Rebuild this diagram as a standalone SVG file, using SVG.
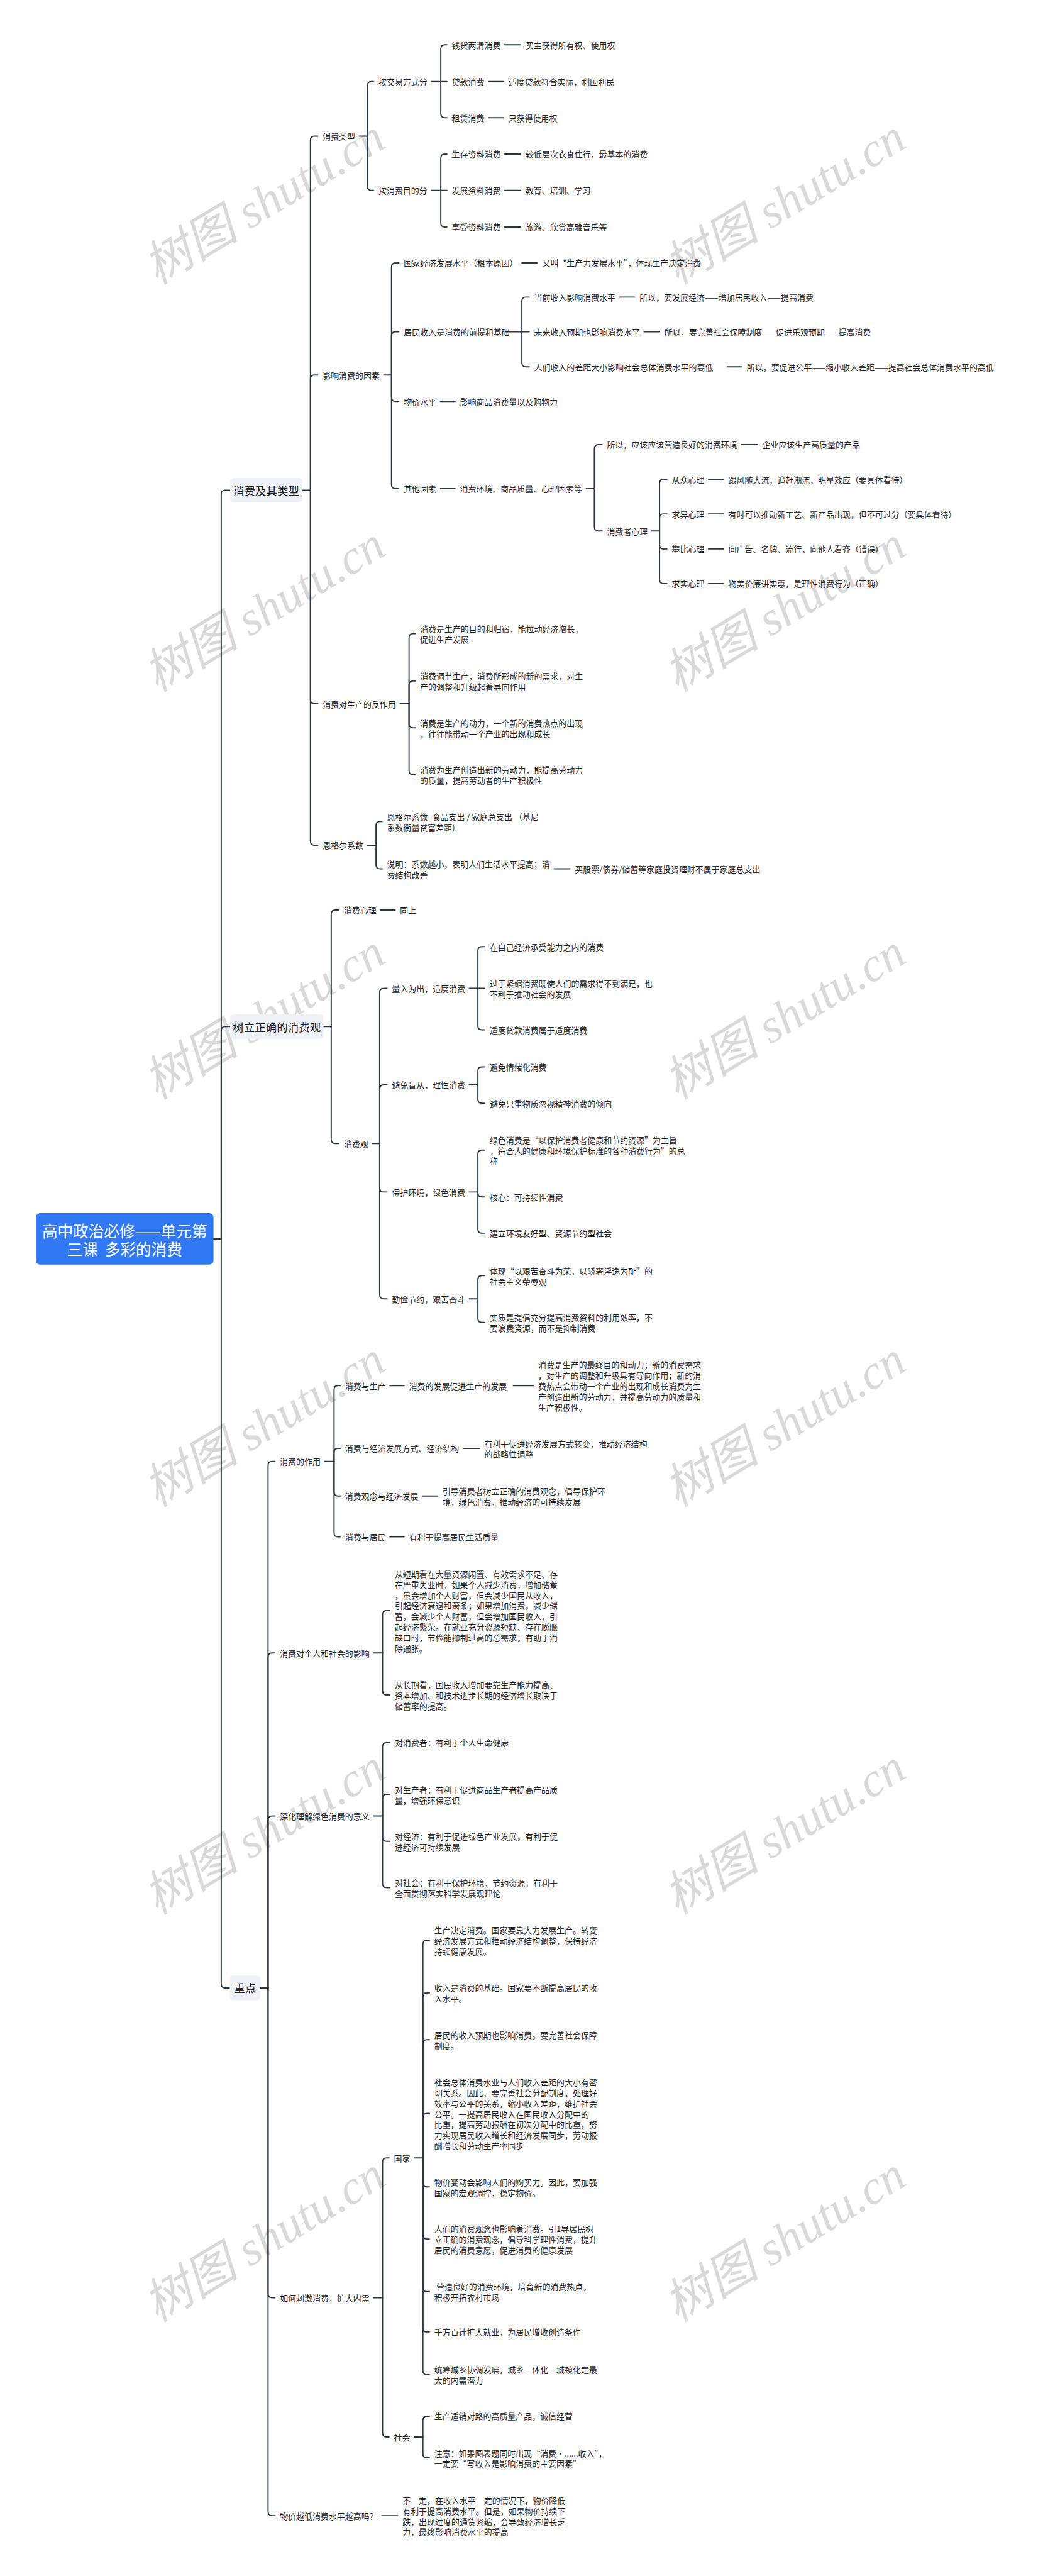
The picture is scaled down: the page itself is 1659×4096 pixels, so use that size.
<svg xmlns="http://www.w3.org/2000/svg" width="1659" height="4096" viewBox="0 0 1659 4096">
<style>
.t{font-family:"Noto Sans CJK SC","Noto Sans",sans-serif;font-size:20px;fill:#1f2329;dominant-baseline:central}
.l1{font-size:27px;text-anchor:middle}
.rt{font-family:"Noto Sans CJK SC","Noto Sans",sans-serif;font-size:38px;fill:#ffffff;text-anchor:middle;dominant-baseline:central}
.c path{fill:none;stroke:#2c3542;stroke-width:3;stroke-linecap:round}
.box{fill:#eef1f6}
.wm{font-family:"Liberation Serif","Noto Sans CJK SC",serif;font-style:italic;font-size:118px;fill:#d9d9d9}
</style>
<rect width="1659" height="4096" fill="#ffffff"/>
<g transform="scale(0.648)">
<g id="watermarks">
<text class="wm" x="385" y="700" transform="rotate(-31 385 700)">树图 shutu.cn</text>
<text class="wm" x="1663" y="700" transform="rotate(-31 1663 700)">树图 shutu.cn</text>
<text class="wm" x="385" y="1700" transform="rotate(-31 385 1700)">树图 shutu.cn</text>
<text class="wm" x="1663" y="1700" transform="rotate(-31 1663 1700)">树图 shutu.cn</text>
<text class="wm" x="385" y="2700" transform="rotate(-31 385 2700)">树图 shutu.cn</text>
<text class="wm" x="1663" y="2700" transform="rotate(-31 1663 2700)">树图 shutu.cn</text>
<text class="wm" x="385" y="3700" transform="rotate(-31 385 3700)">树图 shutu.cn</text>
<text class="wm" x="1663" y="3700" transform="rotate(-31 1663 3700)">树图 shutu.cn</text>
<text class="wm" x="385" y="4700" transform="rotate(-31 385 4700)">树图 shutu.cn</text>
<text class="wm" x="1663" y="4700" transform="rotate(-31 1663 4700)">树图 shutu.cn</text>
<text class="wm" x="385" y="5700" transform="rotate(-31 385 5700)">树图 shutu.cn</text>
<text class="wm" x="1663" y="5700" transform="rotate(-31 1663 5700)">树图 shutu.cn</text>
</g>
<g id="connectors" class="c">
<path d="M524,3040H543"/>
<path d="M543,3040V1213Q543,1203 553,1203H565"/>
<path d="M543,3040V2529Q543,2519 553,2519H565"/>
<path d="M543,3040V4868Q543,4878 553,4878H564"/>
<path d="M742,1203H762"/>
<path d="M762,1203V344Q762,334 772,334H780"/>
<path d="M762,1203V930Q762,920 772,920H780"/>
<path d="M762,1203V1717Q762,1727 772,1727H780"/>
<path d="M762,1203V2064Q762,2074 772,2074H780"/>
<path d="M882,334H902"/>
<path d="M902,334V210Q902,200 912,200H917"/>
<path d="M902,334V457Q902,467 912,467H917"/>
<path d="M1059,200H1082"/>
<path d="M1082,200V120Q1082,110 1092,110H1097"/>
<path d="M1082,200H1097"/>
<path d="M1082,200V279Q1082,289 1092,289H1097"/>
<path d="M1239,110H1278"/>
<path d="M1199,200H1236"/>
<path d="M1199,289H1236"/>
<path d="M1059,467H1082"/>
<path d="M1082,467V388Q1082,378 1092,378H1097"/>
<path d="M1082,467H1097"/>
<path d="M1082,467V547Q1082,557 1092,557H1097"/>
<path d="M1239,378H1278"/>
<path d="M1239,467H1278"/>
<path d="M1239,557H1278"/>
<path d="M942,920H961"/>
<path d="M961,920V655Q961,645 971,645H979"/>
<path d="M961,920V824Q961,814 971,814H979"/>
<path d="M961,920V975Q961,985 971,985H979"/>
<path d="M961,920V1189Q961,1199 971,1199H979"/>
<path d="M1281,645H1319"/>
<path d="M1081,985H1117"/>
<path d="M1081,1199H1117"/>
<path d="M1241,814H1281"/>
<path d="M1281,814V739Q1281,729 1291,729H1299"/>
<path d="M1281,814H1299"/>
<path d="M1281,814V890Q1281,900 1291,900H1299"/>
<path d="M1521,729H1558"/>
<path d="M1581,814H1619"/>
<path d="M1785,900H1821"/>
<path d="M1439,1199H1459"/>
<path d="M1459,1199V1101Q1459,1091 1469,1091H1478"/>
<path d="M1459,1199V1293Q1459,1303 1469,1303H1478"/>
<path d="M1820,1091H1859"/>
<path d="M1600,1303H1619"/>
<path d="M1619,1303V1186Q1619,1176 1629,1176H1637"/>
<path d="M1619,1303V1271Q1619,1261 1629,1261H1637"/>
<path d="M1619,1303V1337Q1619,1347 1629,1347H1637"/>
<path d="M1619,1303V1422Q1619,1432 1629,1432H1637"/>
<path d="M1739,1176H1776"/>
<path d="M1739,1261H1776"/>
<path d="M1739,1347H1776"/>
<path d="M1739,1432H1776"/>
<path d="M982,1727H1004"/>
<path d="M1004,1727V1565Q1004,1555 1014,1555H1019"/>
<path d="M1004,1727V1681Q1004,1671 1014,1671H1019"/>
<path d="M1004,1727V1776Q1004,1786 1014,1786H1019"/>
<path d="M1004,1727V1891Q1004,1901 1014,1901H1019"/>
<path d="M902,2074H923"/>
<path d="M923,2074V2026Q923,2016 933,2016H938"/>
<path d="M923,2074V2122Q923,2132 933,2132H938"/>
<path d="M1360,2132H1399"/>
<path d="M794,2519H813"/>
<path d="M813,2519V2243Q813,2233 823,2233H832"/>
<path d="M813,2519V2796Q813,2806 823,2806H832"/>
<path d="M934,2233H970"/>
<path d="M914,2806H932"/>
<path d="M932,2806V2435Q932,2425 942,2425H950"/>
<path d="M932,2806V2672Q932,2662 942,2662H950"/>
<path d="M932,2806V2915Q932,2925 942,2925H950"/>
<path d="M932,2806V3177Q932,3187 942,3187H950"/>
<path d="M1152,2425H1173"/>
<path d="M1173,2425V2333Q1173,2323 1183,2323H1190"/>
<path d="M1173,2425H1190"/>
<path d="M1173,2425V2517Q1173,2527 1183,2527H1190"/>
<path d="M1152,2662H1173"/>
<path d="M1173,2662V2628Q1173,2618 1183,2618H1190"/>
<path d="M1173,2662V2697Q1173,2707 1183,2707H1190"/>
<path d="M1152,2925H1173"/>
<path d="M1173,2925V2832Q1173,2822 1183,2822H1190"/>
<path d="M1173,2925V2927Q1173,2937 1183,2937H1190"/>
<path d="M1173,2925V3016Q1173,3026 1183,3026H1190"/>
<path d="M1152,3187H1173"/>
<path d="M1173,3187V3140Q1173,3130 1183,3130H1190"/>
<path d="M1173,3187V3235Q1173,3245 1183,3245H1190"/>
<path d="M639,4878H658"/>
<path d="M658,4878V3596Q658,3586 668,3586H675"/>
<path d="M658,4878V4066Q658,4056 668,4056H675"/>
<path d="M658,4878V4466Q658,4456 668,4456H675"/>
<path d="M658,4878V5628Q658,5638 668,5638H675"/>
<path d="M658,4878V6163Q658,6173 668,6173H675"/>
<path d="M797,3586H820"/>
<path d="M820,3586V3410Q820,3400 830,3400H835"/>
<path d="M820,3586V3564Q820,3554 830,3554H835"/>
<path d="M820,3586V3661Q820,3671 830,3671H835"/>
<path d="M820,3586V3761Q820,3771 830,3771H835"/>
<path d="M957,3400H992"/>
<path d="M1260,3400H1309"/>
<path d="M1137,3554H1177"/>
<path d="M1037,3671H1074"/>
<path d="M957,3771H992"/>
<path d="M917,4056H939"/>
<path d="M939,4056V3962Q939,3952 949,3952H957"/>
<path d="M939,4056V4149Q939,4159 949,4159H957"/>
<path d="M917,4456H939"/>
<path d="M939,4456V4286Q939,4276 949,4276H957"/>
<path d="M939,4456V4413Q939,4403 949,4403H957"/>
<path d="M939,4456V4508Q939,4518 949,4518H957"/>
<path d="M939,4456V4622Q939,4632 949,4632H957"/>
<path d="M917,5638H939"/>
<path d="M939,5638V5305Q939,5295 949,5295H955"/>
<path d="M939,5638V5970Q939,5980 949,5980H955"/>
<path d="M1017,5295H1038"/>
<path d="M1038,5295V4771Q1038,4761 1048,4761H1054"/>
<path d="M1038,5295V4900Q1038,4890 1048,4890H1054"/>
<path d="M1038,5295V5015Q1038,5005 1048,5005H1054"/>
<path d="M1038,5295V5196Q1038,5186 1048,5186H1054"/>
<path d="M1038,5295V5356Q1038,5366 1048,5366H1054"/>
<path d="M1038,5295V5484Q1038,5494 1048,5494H1054"/>
<path d="M1038,5295V5613Q1038,5623 1048,5623H1054"/>
<path d="M1038,5295V5712Q1038,5722 1048,5722H1054"/>
<path d="M1038,5295V5817Q1038,5827 1048,5827H1054"/>
<path d="M1017,5980H1038"/>
<path d="M1038,5980V5939Q1038,5929 1048,5929H1054"/>
<path d="M1038,5980V6021Q1038,6031 1048,6031H1054"/>
<path d="M937,6173H976"/>
</g>
<g id="root"><rect x="88" y="2977" width="436" height="126" rx="10" fill="#3178f4"/><text class="rt"><tspan x="306" y="3018">高中政治必修——单元第</tspan><tspan x="306" y="3063">三课&#160;&#160;多彩的消费</tspan></text></g>
<g id="n-xfjqlx"><rect class="box" x="565" y="1173" width="177" height="60" rx="8"/><text class="t l1" x="653.5" y="1203">消费及其类型</text></g>
<g id="n-slzq"><rect class="box" x="565" y="2489" width="229" height="60" rx="8"/><text class="t l1" x="679.5" y="2519">树立正确的消费观</text></g>
<g id="n-zd"><rect class="box" x="564" y="4848" width="75" height="60" rx="8"/><text class="t l1" x="601.5" y="4878">重点</text></g>
<g id="n-xflx"><text class="t" x="792" y="334">消费类型</text></g>
<g id="n-jyfs"><text class="t" x="929" y="200">按交易方式分</text></g>
<g id="n-qh"><text class="t" x="1109" y="110">钱货两清消费</text></g>
<g id="n-qh1"><text class="t" x="1290" y="110">买主获得所有权、使用权</text></g>
<g id="n-dk"><text class="t" x="1109" y="200">贷款消费</text></g>
<g id="n-dk1"><text class="t" x="1248" y="200">适度贷款符合实际，利国利民</text></g>
<g id="n-zl"><text class="t" x="1109" y="289">租赁消费</text></g>
<g id="n-zl1"><text class="t" x="1248" y="289">只获得使用权</text></g>
<g id="n-mdf"><text class="t" x="929" y="467">按消费目的分</text></g>
<g id="n-sc"><text class="t" x="1109" y="378">生存资料消费</text></g>
<g id="n-sc1"><text class="t" x="1290" y="378">较低层次衣食住行，最基本的消费</text></g>
<g id="n-fz"><text class="t" x="1109" y="467">发展资料消费</text></g>
<g id="n-fz1"><text class="t" x="1290" y="467">教育、培训、学习</text></g>
<g id="n-xs"><text class="t" x="1109" y="557">享受资料消费</text></g>
<g id="n-xs1"><text class="t" x="1290" y="557">旅游、欣赏高雅音乐等</text></g>
<g id="n-yxys"><text class="t" x="792" y="920">影响消费的因素</text></g>
<g id="n-gj"><text class="t" x="991" y="645">国家经济发展水平（根本原因）</text></g>
<g id="n-gj1"><text class="t" x="1331" y="645">又叫“生产力发展水平”，体现生产决定消费</text></g>
<g id="n-jmsr"><text class="t" x="991" y="814">居民收入是消费的前提和基础</text></g>
<g id="n-dq"><text class="t" x="1311" y="729">当前收入影响消费水平</text></g>
<g id="n-dq1"><text class="t" x="1570" y="729">所以，要发展经济——增加居民收入——提高消费</text></g>
<g id="n-wl"><text class="t" x="1311" y="814">未来收入预期也影响消费水平</text></g>
<g id="n-wl1"><text class="t" x="1631" y="814">所以，要完善社会保障制度——促进乐观预期——提高消费</text></g>
<g id="n-cj"><text class="t" x="1311" y="900">人们收入的差距大小影响社会总体消费水平的高低</text></g>
<g id="n-cj1"><text class="t" x="1833" y="900">所以，要促进公平——缩小收入差距——提高社会总体消费水平的高低</text></g>
<g id="n-wj"><text class="t" x="991" y="985">物价水平</text></g>
<g id="n-wj1"><text class="t" x="1129" y="985">影响商品消费量以及购物力</text></g>
<g id="n-qt"><text class="t" x="991" y="1199">其他因素</text></g>
<g id="n-qt1"><text class="t" x="1129" y="1199">消费环境、商品质量、心理因素等</text></g>
<g id="n-sy"><text class="t" x="1490" y="1091">所以，应该应该营造良好的消费环境</text></g>
<g id="n-sy1"><text class="t" x="1871" y="1091">企业应该生产高质量的产品</text></g>
<g id="n-xfzxl"><text class="t" x="1490" y="1303">消费者心理</text></g>
<g id="n-cz"><text class="t" x="1649" y="1176">从众心理</text></g>
<g id="n-cz1"><text class="t" x="1788" y="1176">跟风随大流，追赶潮流，明星效应（要具体看待）</text></g>
<g id="n-qy"><text class="t" x="1649" y="1261">求异心理</text></g>
<g id="n-qy1"><text class="t" x="1788" y="1261">有时可以推动新工艺、新产品出现，但不可过分（要具体看待）</text></g>
<g id="n-pb"><text class="t" x="1649" y="1347">攀比心理</text></g>
<g id="n-pb1"><text class="t" x="1788" y="1347">向广告、名牌、流行，向他人看齐（错误）</text></g>
<g id="n-qs"><text class="t" x="1649" y="1432">求实心理</text></g>
<g id="n-qs1"><text class="t" x="1788" y="1432">物美价廉讲实惠，是理性消费行为（正确）</text></g>
<g id="n-fzy"><text class="t" x="792" y="1727">消费对生产的反作用</text></g>
<g id="n-fzy1"><text class="t"><tspan x="1031" y="1542">消费是生产的目的和归宿，能拉动经济增长，</tspan><tspan x="1031" y="1568">促进生产发展</tspan></text></g>
<g id="n-fzy2"><text class="t"><tspan x="1031" y="1658">消费调节生产，消费所形成的新的需求，对生</tspan><tspan x="1031" y="1684">产的调整和升级起着导向作用</tspan></text></g>
<g id="n-fzy3"><text class="t"><tspan x="1031" y="1773">消费是生产的动力，一个新的消费热点的出现</tspan><tspan x="1031" y="1799">，往往能带动一个产业的出现和成长</tspan></text></g>
<g id="n-fzy4"><text class="t"><tspan x="1031" y="1888">消费为生产创造出新的劳动力，能提高劳动力</tspan><tspan x="1031" y="1914">的质量，提高劳动者的生产积极性</tspan></text></g>
<g id="n-egr"><text class="t" x="792" y="2074">恩格尔系数</text></g>
<g id="n-egr1"><text class="t"><tspan x="950" y="2003">恩格尔系数=食品支出 / 家庭总支出 （基尼</tspan><tspan x="950" y="2029">系数衡量贫富差距)</tspan></text></g>
<g id="n-egr2"><text class="t"><tspan x="950" y="2119">说明：系数越小，表明人们生活水平提高；消</tspan><tspan x="950" y="2145">费结构改善</tspan></text></g>
<g id="n-egr3"><text class="t" x="1411" y="2132">买股票/债券/储蓄等家庭投资理财不属于家庭总支出</text></g>
<g id="n-xfxl"><text class="t" x="844" y="2233">消费心理</text></g>
<g id="n-xfxl1"><text class="t" x="982" y="2233">同上</text></g>
<g id="n-xfg"><text class="t" x="844" y="2806">消费观</text></g>
<g id="n-lr"><text class="t" x="962" y="2425">量入为出，适度消费</text></g>
<g id="n-lr1"><text class="t" x="1202" y="2323">在自己经济承受能力之内的消费</text></g>
<g id="n-lr2"><text class="t"><tspan x="1202" y="2412">过于紧缩消费既使人们的需求得不到满足，也</tspan><tspan x="1202" y="2438">不利于推动社会的发展</tspan></text></g>
<g id="n-lr3"><text class="t" x="1202" y="2527">适度贷款消费属于适度消费</text></g>
<g id="n-bm"><text class="t" x="962" y="2662">避免盲从，理性消费</text></g>
<g id="n-bm1"><text class="t" x="1202" y="2618">避免情绪化消费</text></g>
<g id="n-bm2"><text class="t" x="1202" y="2707">避免只重物质忽视精神消费的倾向</text></g>
<g id="n-bh"><text class="t" x="962" y="2925">保护环境，绿色消费</text></g>
<g id="n-bh1"><text class="t"><tspan x="1202" y="2796">绿色消费是“以保护消费者健康和节约资源”为主旨</tspan><tspan x="1202" y="2822">，符合人的健康和环境保护标准的各种消费行为”的总</tspan><tspan x="1202" y="2848">称</tspan></text></g>
<g id="n-bh2"><text class="t" x="1202" y="2937">核心：可持续性消费</text></g>
<g id="n-bh3"><text class="t" x="1202" y="3026">建立环境友好型、资源节约型社会</text></g>
<g id="n-qj"><text class="t" x="962" y="3187">勤俭节约，艰苦奋斗</text></g>
<g id="n-qj1"><text class="t"><tspan x="1202" y="3117">体现“以艰苦奋斗为荣，以骄奢淫逸为耻”的</tspan><tspan x="1202" y="3143">社会主义荣辱观</tspan></text></g>
<g id="n-qj2"><text class="t"><tspan x="1202" y="3232">实质是提倡充分提高消费资料的利用效率，不</tspan><tspan x="1202" y="3258">要浪费资源，而不是抑制消费</tspan></text></g>
<g id="n-zy"><text class="t" x="687" y="3586">消费的作用</text></g>
<g id="n-zy1"><text class="t" x="847" y="3400">消费与生产</text></g>
<g id="n-zy1a"><text class="t" x="1004" y="3400">消费的发展促进生产的发展</text></g>
<g id="n-zy1b"><text class="t"><tspan x="1321" y="3348">消费是生产的最终目的和动力；新的消费需求</tspan><tspan x="1321" y="3374">，对生产的调整和升级具有导向作用；新的消</tspan><tspan x="1321" y="3400">费热点会带动一个产业的出现和成长消费为生</tspan><tspan x="1321" y="3426">产创造出新的劳动力，并提高劳动力的质量和</tspan><tspan x="1321" y="3452">生产积极性。</tspan></text></g>
<g id="n-zy2"><text class="t" x="847" y="3554">消费与经济发展方式、经济结构</text></g>
<g id="n-zy2a"><text class="t"><tspan x="1189" y="3541">有利于促进经济发展方式转变，推动经济结构</tspan><tspan x="1189" y="3567">的战略性调整</tspan></text></g>
<g id="n-zy3"><text class="t" x="847" y="3671">消费观念与经济发展</text></g>
<g id="n-zy3a"><text class="t"><tspan x="1086" y="3658">引导消费者树立正确的消费观念，倡导保护环</tspan><tspan x="1086" y="3684">境，绿色消费，推动经济的可持续发展</tspan></text></g>
<g id="n-zy4"><text class="t" x="847" y="3771">消费与居民</text></g>
<g id="n-zy4a"><text class="t" x="1004" y="3771">有利于提高居民生活质量</text></g>
<g id="n-gr"><text class="t" x="687" y="4056">消费对个人和社会的影响</text></g>
<g id="n-gr1"><text class="t"><tspan x="969" y="3861">从短期看在大量资源闲置、有效需求不足、存</tspan><tspan x="969" y="3887">在严重失业时，如果个人减少消费，增加储蓄</tspan><tspan x="969" y="3913">，虽会增加个人财富，但会减少国民从收入，</tspan><tspan x="969" y="3939">引起经济衰退和萧条；如果增加消费，减少储</tspan><tspan x="969" y="3965">蓄，会减少个人财富，但会增加国民收入，引</tspan><tspan x="969" y="3991">起经济繁荣。在就业充分资源短缺、存在膨胀</tspan><tspan x="969" y="4017">缺口时，节俭能抑制过高的总需求，有助于消</tspan><tspan x="969" y="4043">除通胀。</tspan></text></g>
<g id="n-gr2"><text class="t"><tspan x="969" y="4133">从长期看，国民收入增加要靠生产能力提高、</tspan><tspan x="969" y="4159">资本增加、和技术进步长期的经济增长取决于</tspan><tspan x="969" y="4185">储蓄率的提高。</tspan></text></g>
<g id="n-lsyy"><text class="t" x="687" y="4456">深化理解绿色消费的意义</text></g>
<g id="n-ls1"><text class="t" x="969" y="4276">对消费者：有利于个人生命健康</text></g>
<g id="n-ls2"><text class="t"><tspan x="969" y="4390">对生产者：有利于促进商品生产者提高产品质</tspan><tspan x="969" y="4416">量，增强环保意识</tspan></text></g>
<g id="n-ls3"><text class="t"><tspan x="969" y="4505">对经济：有利于促进绿色产业发展，有利于促</tspan><tspan x="969" y="4531">进经济可持续发展</tspan></text></g>
<g id="n-ls4"><text class="t"><tspan x="969" y="4619">对社会：有利于保护环境，节约资源，有利于</tspan><tspan x="969" y="4645">全面贯彻落实科学发展观理论</tspan></text></g>
<g id="n-cj2"><text class="t" x="687" y="5638">如何刺激消费，扩大内需</text></g>
<g id="n-guo"><text class="t" x="967" y="5295">国家</text></g>
<g id="n-g1"><text class="t"><tspan x="1066" y="4735">生产决定消费。国家要靠大力发展生产。转变</tspan><tspan x="1066" y="4761">经济发展方式和推动经济结构调整，保持经济</tspan><tspan x="1066" y="4787">持续健康发展。</tspan></text></g>
<g id="n-g2"><text class="t"><tspan x="1066" y="4877">收入是消费的基础。国家要不断提高居民的收</tspan><tspan x="1066" y="4903">入水平。</tspan></text></g>
<g id="n-g3"><text class="t"><tspan x="1066" y="4992">居民的收入预期也影响消费。要完善社会保障</tspan><tspan x="1066" y="5018">制度。</tspan></text></g>
<g id="n-g4"><text class="t"><tspan x="1066" y="5108">社会总体消费水业与人们收入差距的大小有密</tspan><tspan x="1066" y="5134">切关系。因此，要完善社会分配制度，处理好</tspan><tspan x="1066" y="5160">效率与公平的关系，缩小收入差距，维护社会</tspan><tspan x="1066" y="5186">公平。一提高居民收入在国民收入分配中的</tspan><tspan x="1066" y="5212">比重，提高劳动报酬在初次分配中的比重，努</tspan><tspan x="1066" y="5238">力实现居民收入增长和经济发展同步，劳动报</tspan><tspan x="1066" y="5264">酬增长和劳动生产率同步</tspan></text></g>
<g id="n-g5"><text class="t"><tspan x="1066" y="5353">物价变动会影响人们的购买力。因此，要加强</tspan><tspan x="1066" y="5379">国家的宏观调控，稳定物价。</tspan></text></g>
<g id="n-g6"><text class="t"><tspan x="1066" y="5468">人们的消费观念也影响着消费。引1导居民树</tspan><tspan x="1066" y="5494">立正确的消费观念，倡导科学理性消费，提升</tspan><tspan x="1066" y="5520">居民的消费意愿，促进消费的健康发展</tspan></text></g>
<g id="n-g7"><text class="t"><tspan x="1071" y="5610">营造良好的消费环境，培育新的消费热点，</tspan><tspan x="1066" y="5636">积极开拓农村市场</tspan></text></g>
<g id="n-g8"><text class="t" x="1066" y="5722">千方百计扩大就业，为居民增收创造条件</text></g>
<g id="n-g9"><text class="t"><tspan x="1066" y="5814">统筹城乡协调发展，城乡一体化一城镇化是最</tspan><tspan x="1066" y="5840">大的内需潜力</tspan></text></g>
<g id="n-sh"><text class="t" x="967" y="5980">社会</text></g>
<g id="n-s1"><text class="t" x="1066" y="5929">生产适销对路的高质量产品，诚信经营</text></g>
<g id="n-s2"><text class="t"><tspan x="1066" y="6018">注意：如果图表题同时出现“消费•......收入”，</tspan><tspan x="1066" y="6044">一定要“写收入是影响消费的主要因素”</tspan></text></g>
<g id="n-wjyd"><text class="t" x="687" y="6173">物价越低消费水平越高吗？</text></g>
<g id="n-wjyd1"><text class="t"><tspan x="988" y="6134">不一定，在收入水平一定的情况下，物价降低</tspan><tspan x="988" y="6160">有利于提高消费水平。但是，如果物价持续下</tspan><tspan x="988" y="6186">跌，出现过度的通货紧缩，会导致经济增长乏</tspan><tspan x="988" y="6212">力，最终影响消费水平的提高</tspan></text></g>
</g>
</svg>
